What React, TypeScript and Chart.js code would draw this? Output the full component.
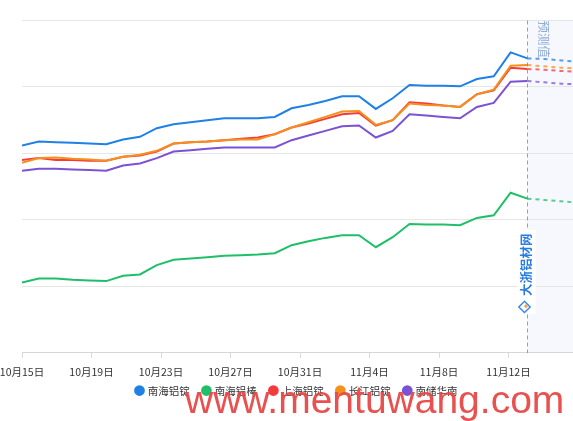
import React, { useEffect, useRef } from "react";
import { Chart, registerables } from "chart.js";

Chart.register(...registerables);

// x-axis date labels (one every 4 days)
const xLabels = ["10月15日", "10月19日", "10月23日", "10月27日", "10月31日", "11月4日", "11月8日", "11月12日"];
// spacing of the date labels measured in data-point steps
const LABEL_STEP = 4.125;

const seriesNames = ["南海铝锭", "南海铝棒", "上海铝锭", "长江铝锭", "南储华南"];
const seriesColors = ["#1f80e6", "#1fbf6a", "#f43b3b", "#f5901c", "#7b52d4"];

// actual values
const nanhaiIngot = [20560, 20590, 20585, 20580, 20575, 20570, 20605, 20625, 20690, 20720, 20735, 20750, 20765, 20765, 20765, 20775, 20840, 20865, 20895, 20930, 20930, 20835, 20915, 21015, 21010, 21010, 21005, 21060, 21080, 21260, 21215];
const nanhaiBar = [19530, 19560, 19560, 19550, 19545, 19540, 19580, 19590, 19660, 19700, 19710, 19720, 19730, 19735, 19740, 19750, 19810, 19840, 19865, 19885, 19885, 19795, 19870, 19970, 19965, 19965, 19960, 20015, 20035, 20205, 20160];
const shanghaiIngot = [20450, 20465, 20450, 20450, 20445, 20445, 20475, 20485, 20515, 20575, 20585, 20590, 20600, 20610, 20620, 20645, 20695, 20725, 20760, 20795, 20805, 20710, 20750, 20885, 20875, 20860, 20850, 20945, 20975, 21145, 21135];
const changjiangIngot = [20430, 20465, 20470, 20460, 20455, 20445, 20475, 20490, 20520, 20575, 20585, 20590, 20600, 20605, 20605, 20645, 20695, 20735, 20775, 20815, 20820, 20715, 20750, 20875, 20865, 20860, 20850, 20945, 20980, 21160, 21165];
const nanchuSouth = [20370, 20385, 20385, 20380, 20375, 20370, 20410, 20425, 20465, 20515, 20525, 20535, 20545, 20545, 20545, 20545, 20600, 20635, 20670, 20705, 20710, 20620, 20670, 20795, 20785, 20775, 20765, 20850, 20880, 21040, 21045];

// forecast values (after the last actual point)
const nanhaiIngotForecast = [21210, 21200, 21190];
const nanhaiBarForecast = [20150, 20140, 20130];
const shanghaiIngotForecast = [21130, 21120, 21115];
const changjiangIngotForecast = [21155, 21145, 21140];
const nanchuSouthForecast = [21035, 21025, 21020];

const Y_MIN = 19000;
const Y_MAX = 21500;
const Y_STEP = 500;

const actualSeries = [nanhaiIngot, nanhaiBar, shanghaiIngot, changjiangIngot, nanchuSouth];
const forecastSeries = [nanhaiIngotForecast, nanhaiBarForecast, shanghaiIngotForecast, changjiangIngotForecast, nanchuSouthForecast];
const drawOrder = [1, 4, 3, 0, 5];

const FONT = '"Noto Sans CJK SC", "Noto Sans", sans-serif';

function withAlpha(hex: string, a: number) {
  const r = parseInt(hex.slice(1, 3), 16);
  const g = parseInt(hex.slice(3, 5), 16);
  const b = parseInt(hex.slice(5, 7), 16);
  return `rgba(${r},${g},${b},${a})`;
}

const forecastStart = nanhaiIngot.length - 1;

const annotationPlugin = {
  id: "annotations",
  afterLayout(chart: any) {
    const lg = chart.legend;
    if (lg) {
      lg.top -= 14.7;
      lg.bottom -= 14.7;
      lg.left -= 3;
      lg.right -= 3;
    }
  },
  beforeDraw(chart: any) {
    const { ctx, chartArea } = chart;
    const xs = chart.scales.x;
    const fx = xs.getPixelForValue(forecastStart);
    ctx.save();
    ctx.fillStyle = "#f6f8fd";
    ctx.fillRect(fx, chartArea.top, chartArea.right - fx, chartArea.bottom - chartArea.top);
    ctx.restore();
  },
  afterDatasetsDraw(chart: any) {
    const { ctx, chartArea } = chart;
    const xs = chart.scales.x;
    const fx = Math.round(xs.getPixelForValue(forecastStart)) + 0.5;
    ctx.save();
    // dashed divider
    ctx.strokeStyle = "rgba(128,110,210,0.75)";
    ctx.lineWidth = 1;
    ctx.setLineDash([4, 3]);
    ctx.beginPath();
    ctx.moveTo(fx, chartArea.top);
    ctx.lineTo(fx, chartArea.bottom);
    ctx.stroke();
    ctx.setLineDash([]);

    // 预测值 label
    ctx.save();
    ctx.translate(fx + 16, chartArea.top);
    ctx.rotate(Math.PI / 2);
    ctx.font = `12.5px ${FONT}`;
    ctx.fillStyle = "#8fabd6";
    ctx.textAlign = "left";
    ctx.textBaseline = "middle";
    ctx.fillText("预测值", 0, 0);
    ctx.restore();

    // site mark
    const by = chartArea.bottom - 57;
    ctx.fillStyle = "#ffffff";
    ctx.fillRect(fx - 10, by - 66, 18, 84);
    ctx.save();
    ctx.translate(fx - 1.5, by);
    ctx.rotate(-Math.PI / 2);
    ctx.font = `bold 12.5px ${FONT}`;
    ctx.fillStyle = "#2a7de0";
    ctx.textAlign = "left";
    ctx.textBaseline = "middle";
    ctx.fillText("大浙铝材网", 0, 0);
    ctx.restore();
    // small logo
    ctx.save();
    ctx.translate(fx - 3, by + 11);
    ctx.rotate(Math.PI / 4);
    ctx.strokeStyle = "#3d8be6";
    ctx.lineWidth = 1.5;
    ctx.strokeRect(-4, -4, 8, 8);
    ctx.fillStyle = "#f3a35a";
    ctx.fillRect(-1, -3, 3, 3);
    ctx.restore();
    ctx.restore();
  },
  afterDraw(chart: any) {
    const { ctx } = chart;
    ctx.save();
    ctx.font = '39px "Liberation Sans", Arial, sans-serif';
    ctx.fillStyle = "rgba(232,72,72,0.95)";
    ctx.textAlign = "left";
    ctx.textBaseline = "alphabetic";
    ctx.fillText("www.mentuwang.com", 185, 413);
    ctx.restore();
  },
};

export default function App() {
  const canvasRef = useRef<HTMLCanvasElement | null>(null);

  useEffect(() => {
    const canvas = canvasRef.current;
    if (!canvas) return;
    const datasets = seriesNames.map((name, s) => {
      const values = [...actualSeries[s], ...forecastSeries[s]];
      const color = seriesColors[s];
      return {
        label: name,
        data: values.map((v, i) => ({ x: i, y: v })),
        borderColor: color,
        backgroundColor: color,
        borderWidth: 2,
        pointRadius: 0,
        tension: 0,
        order: drawOrder[s],
        segment: {
          borderDash: (ctx: any) => (ctx.p0DataIndex >= forecastStart ? [4, 4] : undefined),
          borderColor: (ctx: any) => (ctx.p0DataIndex >= forecastStart ? withAlpha(color, 0.75) : undefined),
        },
      };
    });

    const chart = new Chart(canvas, {
      type: "line",
      data: { datasets },
      options: {
        animation: false,
        responsive: false,
        devicePixelRatio: 1,
        layout: { padding: { left: 22, right: 0, top: 20.5, bottom: 0.5 } },
        plugins: {
          legend: {
            position: "bottom",
            labels: {
              usePointStyle: true,
              pointStyle: "circle",
              boxWidth: 6.2,
              boxHeight: 6.2,
              padding: 13.5,
              color: "#333",
              font: { size: 10.5, family: FONT },
              sort: (a: any, b: any) => a.datasetIndex - b.datasetIndex,
            },
          },
          tooltip: { enabled: false },
        },
        scales: {
          x: {
            type: "linear",
            min: 0,
            max: 33,
            afterBuildTicks: (scale: any) => {
              scale.ticks = xLabels.map((_, k) => ({ value: k * LABEL_STEP }));
            },
            afterFit: (scale: any) => {
              scale.paddingLeft = 0;
              scale.paddingRight = 0;
            },
            ticks: {
              autoSkip: false,
              maxRotation: 0,
              padding: 8,
              color: "#333",
              font: { size: 10.5, family: FONT },
              callback: (_v: any, i: number) => xLabels[i],
            },
            grid: { drawOnChartArea: false, drawTicks: true, tickLength: 5, color: "#d9d9d9" },
            border: { color: "#d6d6d6", width: 1 },
          },
          y: {
            min: Y_MIN,
            max: Y_MAX,
            ticks: { display: false, stepSize: Y_STEP },
            grid: { color: "#e6e6e6", drawTicks: false },
            border: { display: false },
          },
        },
      },
      plugins: [annotationPlugin],
    });
    return () => chart.destroy();
  }, []);

  return (
    <div style={{ position: "fixed", left: 0, top: 0, width: 573, height: 421, overflow: "hidden", background: "#fff" }}>
      <canvas ref={canvasRef} width={578} height={421} style={{ display: "block" }} />
    </div>
  );
}
